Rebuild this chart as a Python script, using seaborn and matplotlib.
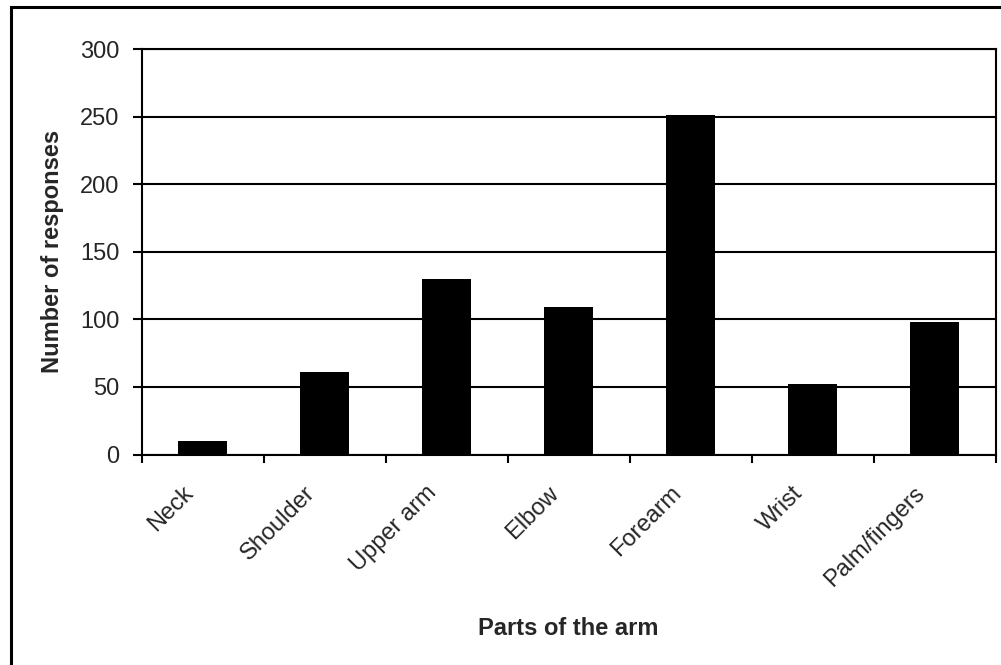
import matplotlib
matplotlib.use("Agg")
import matplotlib.pyplot as plt
import matplotlib.transforms as mtransforms
import seaborn as sns
import pandas as pd
from matplotlib.patches import Rectangle

categories = ["Neck", "Shoulder", "Upper arm", "Elbow", "Forearm", "Wrist", "Palm/fingers"]
responses = [10, 61, 130, 109, 251, 52, 98]
y_ticks = [0, 50, 100, 150, 200, 250, 300]

sns.set_theme(style="white")
plt.rcParams['font.family'] = ['Liberation Sans', 'DejaVu Sans']

df = pd.DataFrame({"part": categories, "n": responses})

fig = plt.figure(figsize=(10.01, 6.65), dpi=100)
ax = fig.add_axes([0.1416, 0.3165, 0.9947 - 0.1416, 0.9263 - 0.3165])

sns.barplot(data=df, x="part", y="n", color="black", width=0.405,
            saturation=1, edgecolor="none", linewidth=0, ax=ax, zorder=3)

ax.set_ylim(0, 300)
ax.set_xlim(-0.5, len(categories) - 0.5)
ax.set_yticks(y_ticks)
ax.set_yticklabels([str(v) for v in y_ticks], fontsize=17)
ax.yaxis.grid(True, color="black", linewidth=1.5, zorder=1)
ax.set_axisbelow(True)

for s in ["left", "bottom", "right", "top"]:
    ax.spines[s].set_visible(True)
    ax.spines[s].set_color("black")
    ax.spines[s].set_linewidth(1.5)

ax.tick_params(axis="y", which="major", direction="out", length=6.5, width=1.5,
               color="black", left=True, pad=9.5)
ax.set_xticks(range(len(categories)))
ax.set_xticklabels(categories, rotation=45, ha="right", rotation_mode="anchor",
                   fontsize=17)
ax.tick_params(axis="x", which="major", length=0, pad=14)
ax.set_xticks([i - 0.5 for i in range(len(categories) + 1)], minor=True)
ax.tick_params(axis="x", which="minor", direction="out", length=6, width=1.5,
               color="black", bottom=True)

shift = mtransforms.ScaledTranslation(-21 / 100, -8 / 100, fig.dpi_scale_trans)
for lab in ax.get_xticklabels():
    lab.set_transform(lab.get_transform() + shift)

ax.set_xlabel("Parts of the arm", fontsize=17, fontweight="bold", va="center")
ax.xaxis.set_label_coords(0.5, -0.428)
ax.set_ylabel("Number of responses", fontsize=17, fontweight="bold", va="center")
ax.yaxis.set_label_coords(-0.104, 0.5)

fig.patches.append(Rectangle((10.5 / 1001, -0.1), 1.2, 1.1 - 7.5 / 665,
                             transform=fig.transFigure, fill=False,
                             edgecolor="black", linewidth=2.2))

fig.savefig("out.png", dpi=100, facecolor="white")
